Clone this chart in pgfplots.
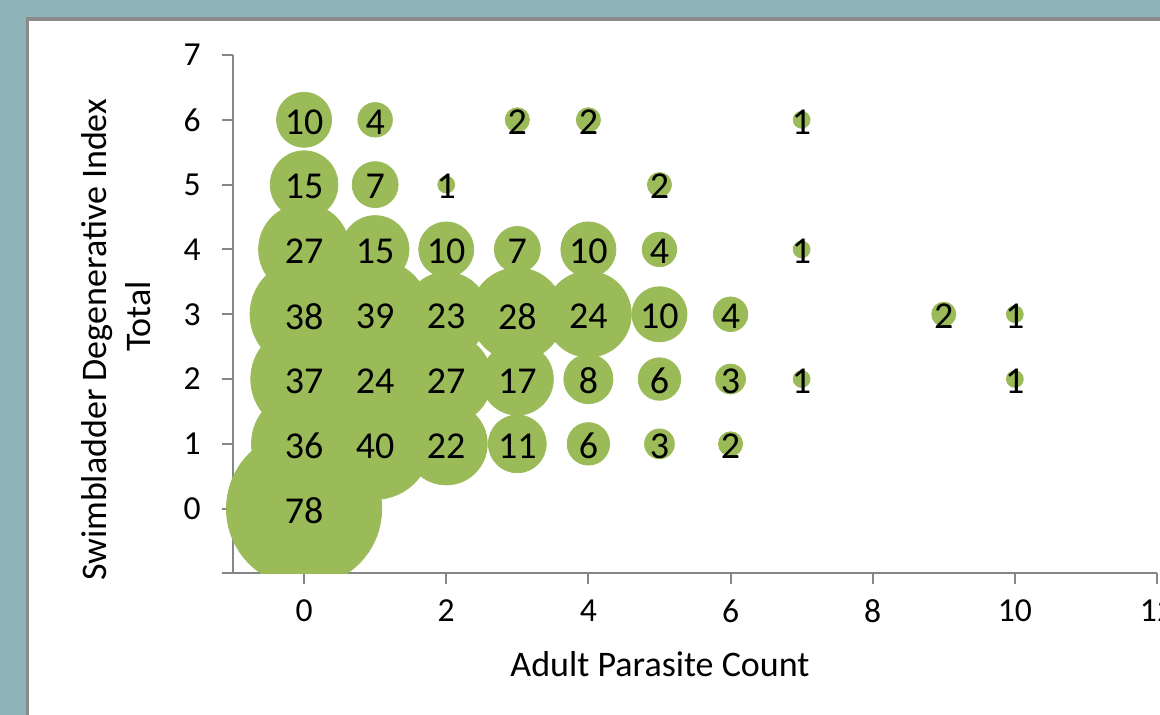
\documentclass[border=0pt]{standalone}
\usepackage{pgfplots}
\pgfplotsset{compat=1.18}
\usepackage{pgfplotstable}
\usepackage{fontspec}
\setmainfont{Carlito}
\definecolor{teal0}{HTML}{8FB4B8}
\definecolor{bub}{HTML}{9BBB59}
\definecolor{axgrey}{HTML}{868686}
\definecolor{panelgrey}{HTML}{8A8A8A}

\pgfplotstableread{
x y s
0 6 10
1 6 4
3 6 2
4 6 2
7 6 1
0 5 15
1 5 7
2 5 1
5 5 2
0 4 27
1 4 15
2 4 10
3 4 7
4 4 10
5 4 4
7 4 1
0 3 38
1 3 39
2 3 23
3 3 28
4 3 24
5 3 10
6 3 4
9 3 2
10 3 1
0 2 37
1 2 24
2 2 27
3 2 17
4 2 8
5 2 6
6 2 3
7 2 1
10 2 1
0 1 36
1 1 40
2 1 22
3 1 11
4 1 6
5 1 3
6 1 2
0 0 78
}\bubbles

\begin{document}
\begin{tikzpicture}
\useasboundingbox (0,0) rectangle (580pt,357.5pt);
\clip (0,0) rectangle (580pt,357.5pt);
\fill[teal0] (0,0) rectangle (580pt,357.5pt);
\filldraw[fill=white, draw=panelgrey, line width=1.6pt] (13.85pt,-20pt) rectangle (620pt,348pt);

\begin{axis}[
  at={(116.5pt,70.75pt)}, anchor=south west,
  scale only axis, width=462pt, height=259.25pt,
  xmin=-1, xmax=12, ymin=-1, ymax=7,
  axis lines=left, axis line style={-, draw=axgrey, line width=1pt},
  tick align=outside, major tick length=5.5pt,
  tick style={draw=axgrey, line width=1pt},
  xtick={0,2,...,12}, ytick={-1,0,...,7},
  yticklabels={{},0,1,2,3,4,5,6,7},
  /pgf/number format/assume math mode=true,
  tick label style={font=\fontsize{16.8pt}{20pt}\selectfont, text=black},
  xticklabel style={anchor=north, inner sep=0pt, yshift=-7.5pt},
  yticklabel style={anchor=east, inner sep=0pt, xshift=-10.5pt},
]
\addplot[draw=none] coordinates {(0,0)};
\end{axis}

\begin{scope}
\clip (0,70.75pt) rectangle (580pt,357.5pt);
\begin{axis}[
  at={(116.5pt,70.75pt)}, anchor=south west,
  scale only axis, width=462pt, height=259.25pt,
  xmin=-1, xmax=12, ymin=-1, ymax=7,
  hide axis, clip=false,
]
\addplot[scatter, only marks, mark=*,
  scatter/use mapped color={draw=bub, fill=bub},
  visualization depends on={4.416*sqrt(\thisrow{s})-0.2 \as \rad},
  scatter/@pre marker code/.append style={/tikz/mark size=\rad}]
  table[x=x, y=y, meta=s]{\bubbles};
\addplot[only marks, mark=*, mark size=0pt, mark options={draw=none, fill=none},
  nodes near coords, point meta=explicit symbolic,
  nodes near coords style={font=\fontsize{19pt}{22pt}\selectfont, text=black, anchor=center, yshift=-1pt}]
  table[x=x, y=y, meta=s]{\bubbles};
\end{axis}
\end{scope}

\node[anchor=base] at (330pt,19pt) {\fontsize{18pt}{21pt}\selectfont Adult Parasite Count};
\node[anchor=base, rotate=90] at (53.3pt,187.5pt) {\fontsize{18pt}{21pt}\selectfont Swimbladder Degenerative Index};
\node[anchor=base, rotate=90] at (75pt,199.2pt) {\fontsize{18pt}{21pt}\selectfont Total};
\end{tikzpicture}
\end{document}
